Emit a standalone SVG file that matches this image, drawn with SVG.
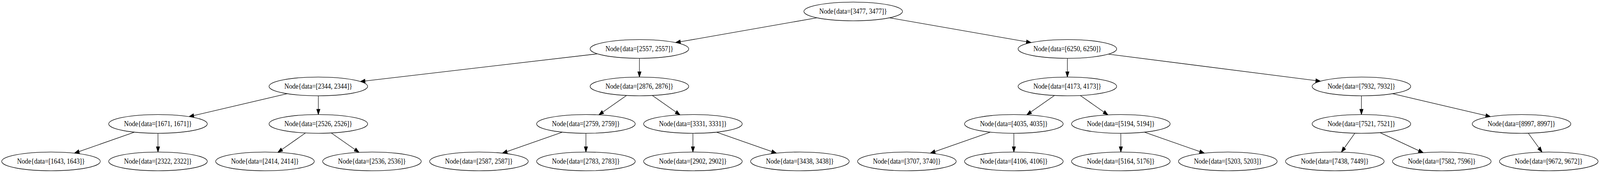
<svg xmlns="http://www.w3.org/2000/svg" width="4527" height="443" viewBox="0 0 4527 443" preserveAspectRatio="none">
<style>
svg:root{width:100vw;height:100vh}
.node ellipse{fill:#fff;stroke:#000;stroke-width:1.33}
.node text{font-family:"Liberation Serif","Times New Roman",serif;font-size:18.67px;text-anchor:middle;fill:#000}
.edges line{stroke:#000;stroke-width:1.33;fill:none;marker-end:url(#arrow)}
</style>
<defs>
<marker id="arrow" markerUnits="userSpaceOnUse" markerWidth="16" markerHeight="12" refX="0" refY="0" viewBox="0 -6 16 12" orient="auto" overflow="visible">
<path d="M0,-4.67 L13.33,0 L0,4.67 Z" fill="#000" stroke="#000" stroke-width="1.33"/>
</marker>
</defs>
<rect x="0" y="0" width="4527" height="443" fill="#fff"/>
<g id="edges" class="edges">
<line x1="2311.47" y1="45.57" x2="1924.90" y2="106.94"/>
<line x1="2516.62" y1="45.56" x2="2904.21" y2="106.95"/>
<line x1="1690.33" y1="137.86" x2="1032.83" y2="207.34"/>
<line x1="1809.2" y1="149.3" x2="1809.2" y2="183.97"/>
<line x1="3020" y1="149.3" x2="3020" y2="183.97"/>
<line x1="3135.85" y1="138.67" x2="3722.91" y2="206.40"/>
<line x1="812.70" y1="239.92" x2="548.04" y2="295.92"/>
<line x1="900.7" y1="245.3" x2="900.7" y2="279.97"/>
<line x1="1772.67" y1="244.46" x2="1705.59" y2="287.00"/>
<line x1="1845.71" y1="244.46" x2="1912.73" y2="287.00"/>
<line x1="2983.47" y1="244.46" x2="2916.39" y2="287.00"/>
<line x1="3056.51" y1="244.46" x2="3123.53" y2="287.00"/>
<line x1="3852" y1="245.3" x2="3852" y2="279.97"/>
<line x1="3939.92" y1="239.93" x2="4204.04" y2="295.91"/>
<line x1="380.48" y1="338.40" x2="223.53" y2="388.17"/>
<line x1="447" y1="341.3" x2="447" y2="375.97"/>
<line x1="864.26" y1="340.47" x2="797.39" y2="382.98"/>
<line x1="937.31" y1="340.47" x2="1004.54" y2="382.98"/>
<line x1="1591.28" y1="338.40" x2="1434.33" y2="388.17"/>
<line x1="1657.8" y1="341.3" x2="1657.8" y2="375.97"/>
<line x1="1960.5" y1="341.3" x2="1960.5" y2="375.97"/>
<line x1="2027.02" y1="338.40" x2="2183.97" y2="388.17"/>
<line x1="2802.08" y1="338.40" x2="2645.13" y2="388.17"/>
<line x1="2868.6" y1="341.3" x2="2868.6" y2="375.97"/>
<line x1="3171.3" y1="341.3" x2="3171.3" y2="375.97"/>
<line x1="3237.82" y1="338.40" x2="3394.77" y2="388.17"/>
<line x1="3833.34" y1="341.08" x2="3803.59" y2="379.03"/>
<line x1="3904.65" y1="339.53" x2="4014.47" y2="385.89"/>
<line x1="4324.09" y1="341.07" x2="4354.66" y2="379.14"/>
</g>
<g id="n3477" class="node"><ellipse cx="2414" cy="29.3" rx="139.5" ry="24"/><text x="2414" y="34.6" textLength="192" lengthAdjust="spacingAndGlyphs">Node{data=[3477, 3477]}</text></g>
<g id="n2557" class="node"><ellipse cx="1809.2" cy="125.3" rx="139.5" ry="24"/><text x="1809.2" y="130.6" textLength="192" lengthAdjust="spacingAndGlyphs">Node{data=[2557, 2557]}</text></g>
<g id="n6250" class="node"><ellipse cx="3020" cy="125.3" rx="139.5" ry="24"/><text x="3020" y="130.6" textLength="192" lengthAdjust="spacingAndGlyphs">Node{data=[6250, 6250]}</text></g>
<g id="n2344" class="node"><ellipse cx="900.7" cy="221.3" rx="139.5" ry="24"/><text x="900.7" y="226.6" textLength="192" lengthAdjust="spacingAndGlyphs">Node{data=[2344, 2344]}</text></g>
<g id="n2876" class="node"><ellipse cx="1809.2" cy="221.3" rx="139.5" ry="24"/><text x="1809.2" y="226.6" textLength="192" lengthAdjust="spacingAndGlyphs">Node{data=[2876, 2876]}</text></g>
<g id="n4173" class="node"><ellipse cx="3020" cy="221.3" rx="139.5" ry="24"/><text x="3020" y="226.6" textLength="192" lengthAdjust="spacingAndGlyphs">Node{data=[4173, 4173]}</text></g>
<g id="n7932" class="node"><ellipse cx="3852" cy="221.3" rx="139.5" ry="24"/><text x="3852" y="226.6" textLength="192" lengthAdjust="spacingAndGlyphs">Node{data=[7932, 7932]}</text></g>
<g id="n1671" class="node"><ellipse cx="447" cy="317.3" rx="139.5" ry="24"/><text x="447" y="322.6" textLength="192" lengthAdjust="spacingAndGlyphs">Node{data=[1671, 1671]}</text></g>
<g id="n2526" class="node"><ellipse cx="900.7" cy="317.3" rx="139.5" ry="24"/><text x="900.7" y="322.6" textLength="192" lengthAdjust="spacingAndGlyphs">Node{data=[2526, 2526]}</text></g>
<g id="n2759" class="node"><ellipse cx="1657.8" cy="317.3" rx="139.5" ry="24"/><text x="1657.8" y="322.6" textLength="192" lengthAdjust="spacingAndGlyphs">Node{data=[2759, 2759]}</text></g>
<g id="n3331" class="node"><ellipse cx="1960.5" cy="317.3" rx="139.5" ry="24"/><text x="1960.5" y="322.6" textLength="192" lengthAdjust="spacingAndGlyphs">Node{data=[3331, 3331]}</text></g>
<g id="n4035" class="node"><ellipse cx="2868.6" cy="317.3" rx="139.5" ry="24"/><text x="2868.6" y="322.6" textLength="192" lengthAdjust="spacingAndGlyphs">Node{data=[4035, 4035]}</text></g>
<g id="n5194" class="node"><ellipse cx="3171.3" cy="317.3" rx="139.5" ry="24"/><text x="3171.3" y="322.6" textLength="192" lengthAdjust="spacingAndGlyphs">Node{data=[5194, 5194]}</text></g>
<g id="n7521" class="node"><ellipse cx="3852" cy="317.3" rx="139.5" ry="24"/><text x="3852" y="322.6" textLength="192" lengthAdjust="spacingAndGlyphs">Node{data=[7521, 7521]}</text></g>
<g id="n8997" class="node"><ellipse cx="4305" cy="317.3" rx="139.5" ry="24"/><text x="4305" y="322.6" textLength="192" lengthAdjust="spacingAndGlyphs">Node{data=[8997, 8997]}</text></g>
<g id="n1643" class="node"><ellipse cx="144.3" cy="413.3" rx="139.5" ry="24"/><text x="144.3" y="418.6" textLength="192" lengthAdjust="spacingAndGlyphs">Node{data=[1643, 1643]}</text></g>
<g id="n2322" class="node"><ellipse cx="447" cy="413.3" rx="139.5" ry="24"/><text x="447" y="418.6" textLength="192" lengthAdjust="spacingAndGlyphs">Node{data=[2322, 2322]}</text></g>
<g id="n2414" class="node"><ellipse cx="749.7" cy="413.3" rx="139.5" ry="24"/><text x="749.7" y="418.6" textLength="192" lengthAdjust="spacingAndGlyphs">Node{data=[2414, 2414]}</text></g>
<g id="n2536" class="node"><ellipse cx="1052.4" cy="413.3" rx="139.5" ry="24"/><text x="1052.4" y="418.6" textLength="192" lengthAdjust="spacingAndGlyphs">Node{data=[2536, 2536]}</text></g>
<g id="n2587" class="node"><ellipse cx="1355.1" cy="413.3" rx="139.5" ry="24"/><text x="1355.1" y="418.6" textLength="192" lengthAdjust="spacingAndGlyphs">Node{data=[2587, 2587]}</text></g>
<g id="n2783" class="node"><ellipse cx="1657.8" cy="413.3" rx="139.5" ry="24"/><text x="1657.8" y="418.6" textLength="192" lengthAdjust="spacingAndGlyphs">Node{data=[2783, 2783]}</text></g>
<g id="n2902" class="node"><ellipse cx="1960.5" cy="413.3" rx="139.5" ry="24"/><text x="1960.5" y="418.6" textLength="192" lengthAdjust="spacingAndGlyphs">Node{data=[2902, 2902]}</text></g>
<g id="n3438" class="node"><ellipse cx="2263.2" cy="413.3" rx="139.5" ry="24"/><text x="2263.2" y="418.6" textLength="192" lengthAdjust="spacingAndGlyphs">Node{data=[3438, 3438]}</text></g>
<g id="n3707" class="node"><ellipse cx="2565.9" cy="413.3" rx="139.5" ry="24"/><text x="2565.9" y="418.6" textLength="192" lengthAdjust="spacingAndGlyphs">Node{data=[3707, 3740]}</text></g>
<g id="n4106" class="node"><ellipse cx="2868.6" cy="413.3" rx="139.5" ry="24"/><text x="2868.6" y="418.6" textLength="192" lengthAdjust="spacingAndGlyphs">Node{data=[4106, 4106]}</text></g>
<g id="n5164" class="node"><ellipse cx="3171.3" cy="413.3" rx="139.5" ry="24"/><text x="3171.3" y="418.6" textLength="192" lengthAdjust="spacingAndGlyphs">Node{data=[5164, 5176]}</text></g>
<g id="n5203" class="node"><ellipse cx="3474" cy="413.3" rx="139.5" ry="24"/><text x="3474" y="418.6" textLength="192" lengthAdjust="spacingAndGlyphs">Node{data=[5203, 5203]}</text></g>
<g id="n7438" class="node"><ellipse cx="3776.7" cy="413.3" rx="139.5" ry="24"/><text x="3776.7" y="418.6" textLength="192" lengthAdjust="spacingAndGlyphs">Node{data=[7438, 7449]}</text></g>
<g id="n7582" class="node"><ellipse cx="4079.4" cy="413.3" rx="139.5" ry="24"/><text x="4079.4" y="418.6" textLength="192" lengthAdjust="spacingAndGlyphs">Node{data=[7582, 7596]}</text></g>
<g id="n9672" class="node"><ellipse cx="4382.1" cy="413.3" rx="139.5" ry="24"/><text x="4382.1" y="418.6" textLength="192" lengthAdjust="spacingAndGlyphs">Node{data=[9672, 9672]}</text></g>
</svg>
